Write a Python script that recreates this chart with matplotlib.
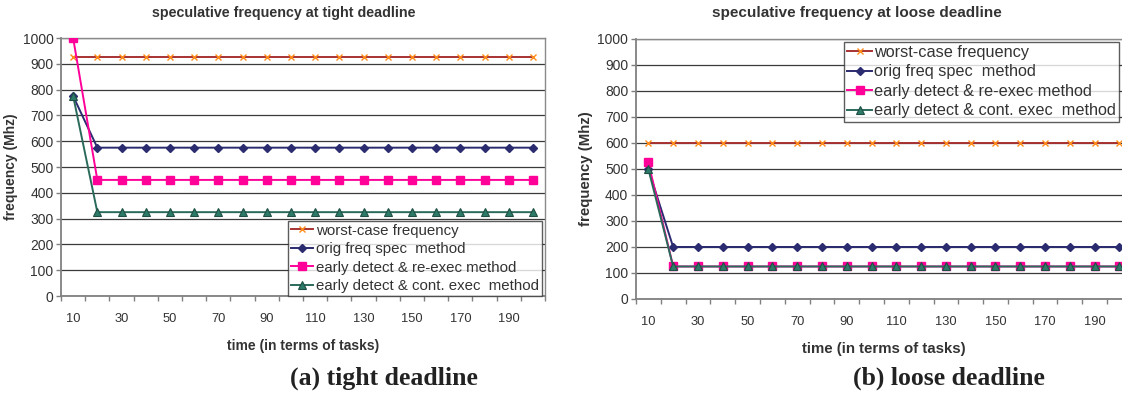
import numpy as np
import matplotlib
matplotlib.use("Agg")
import matplotlib.pyplot as plt
from matplotlib.ticker import FixedLocator

plt.rcParams['font.family'] = ['Liberation Sans', 'DejaVu Sans']

# x categories (tasks)
tasks = [10, 20, 30, 40, 50, 60, 70, 80, 90, 100,
         110, 120, 130, 140, 150, 160, 170, 180, 190, 200]

# tight deadline (Mhz)
tight_worst = [925, 925, 925, 925, 925, 925, 925, 925, 925, 925,
               925, 925, 925, 925, 925, 925, 925, 925, 925, 925]
tight_orig = [775, 575, 575, 575, 575, 575, 575, 575, 575, 575,
              575, 575, 575, 575, 575, 575, 575, 575, 575, 575]
tight_reexec = [1000, 450, 450, 450, 450, 450, 450, 450, 450, 450,
                450, 450, 450, 450, 450, 450, 450, 450, 450, 450]
tight_cont = [775, 325, 325, 325, 325, 325, 325, 325, 325, 325,
              325, 325, 325, 325, 325, 325, 325, 325, 325, 325]

# loose deadline (Mhz)
loose_worst = [600, 600, 600, 600, 600, 600, 600, 600, 600, 600,
               600, 600, 600, 600, 600, 600, 600, 600, 600, 600]
loose_orig = [500, 200, 200, 200, 200, 200, 200, 200, 200, 200,
              200, 200, 200, 200, 200, 200, 200, 200, 200, 200]
loose_reexec = [525, 125, 125, 125, 125, 125, 125, 125, 125, 125,
                125, 125, 125, 125, 125, 125, 125, 125, 125, 125]
loose_cont = [500, 125, 125, 125, 125, 125, 125, 125, 125, 125,
              125, 125, 125, 125, 125, 125, 125, 125, 125, 125]

labels = ['worst-case frequency', 'orig freq spec  method',
          'early detect & re-exec method', 'early detect & cont. exec  method']

fig = plt.figure(figsize=(11.22, 3.96), dpi=100)
ax1 = fig.add_axes([0.0544, 0.2525, 0.4314, 0.6515])
ax2 = fig.add_axes([0.5668, 0.245, 0.442, 0.6566])

txt = '#333333'


def draw(ax, worst, orig, reexec, cont, lab_fs):
    x = np.arange(len(tasks))
    ax.plot(x, worst, color='#a83232', lw=1.4, marker='x', ms=5, mec='#ff8c1a', mew=1.0, label=labels[0], zorder=3)
    ax.plot(x, orig, color='#2b2b70', lw=1.4, marker='D', ms=3.8, mfc='#2b2b70', mec='#2b2b70', label=labels[1], zorder=4)
    ax.plot(x, reexec, color='#ff0099', lw=1.4, marker='s', ms=5.2, mfc='#ff0099', mec='#ff0099', label=labels[2], zorder=4)
    ax.plot(x, cont, color='#2a6a5a', lw=1.4, marker='^', ms=5.5, mfc='#2e7a68', mec='#1f4f44', mew=0.8, label=labels[3], zorder=5)
    ax.set_xlim(-0.5, len(tasks) - 0.5)
    ax.set_ylim(0, 1000)
    ax.set_yticks(np.arange(0, 1001, 100))
    ax.yaxis.grid(True, color='#3a3a3a', lw=0.9)
    ax.set_axisbelow(True)
    ax.set_xticks(x[::2])
    ax.set_xticklabels([str(t) for t in tasks[::2]])
    ax.xaxis.set_minor_locator(FixedLocator(np.arange(-0.5, len(tasks), 1.0)))
    ax.tick_params(axis='x', which='major', length=0, pad=12, labelsize=9.3, labelcolor=txt)
    ax.tick_params(axis='x', which='minor', length=3.5, color='#808080', width=1)
    ax.tick_params(axis='y', length=3.5, color='#808080', width=1, labelsize=10, labelcolor=txt, pad=2)
    for s in ['left', 'bottom']:
        ax.spines[s].set_color('#808080')
        ax.spines[s].set_linewidth(1.3)
    for s in ['top', 'right']:
        ax.spines[s].set_color('#8a8a8a')
        ax.spines[s].set_linewidth(1.0)
    ax.set_xlabel('time (in terms of tasks)', fontsize=lab_fs, fontweight='bold', color=txt, labelpad=10)
    ax.set_ylabel('frequency (Mhz)', fontsize=lab_fs, fontweight='bold', color=txt, labelpad=3)


draw(ax1, tight_worst, tight_orig, tight_reexec, tight_cont, 10)
draw(ax2, loose_worst, loose_orig, loose_reexec, loose_cont, 10.8)

leg_kw = dict(frameon=True, fancybox=False, handlelength=1.5, handletextpad=0.15,
              borderpad=0.2, borderaxespad=0)
l1 = ax1.legend(loc='lower right', bbox_to_anchor=(0.993, 0.0), fontsize=10.8, labelspacing=0.3, **leg_kw)
l2 = ax2.legend(loc='upper left', bbox_to_anchor=(0.42, 0.99), fontsize=11.7, labelspacing=0.28, **leg_kw)
for l in (l1, l2):
    l.get_frame().set_edgecolor('#333333')
    l.get_frame().set_linewidth(1.0)
    for t in l.get_texts():
        t.set_color(txt)

fig.text(0.253, 0.968, 'speculative frequency at tight deadline', ha='center', va='center',
         fontsize=10.3, fontweight='bold', color=txt)
fig.text(0.764, 0.968, 'speculative frequency at loose deadline', ha='center', va='center',
         fontsize=11, fontweight='bold', color=txt)

fig.text(0.342, 0.045, '(a) tight deadline', ha='center', va='center', family='Liberation Serif',
         fontsize=18.5, fontweight='bold', color='#222222')
fig.text(0.846, 0.045, '(b) loose deadline', ha='center', va='center', family='Liberation Serif',
         fontsize=18.5, fontweight='bold', color='#222222')

fig.savefig('out.png', dpi=100)
